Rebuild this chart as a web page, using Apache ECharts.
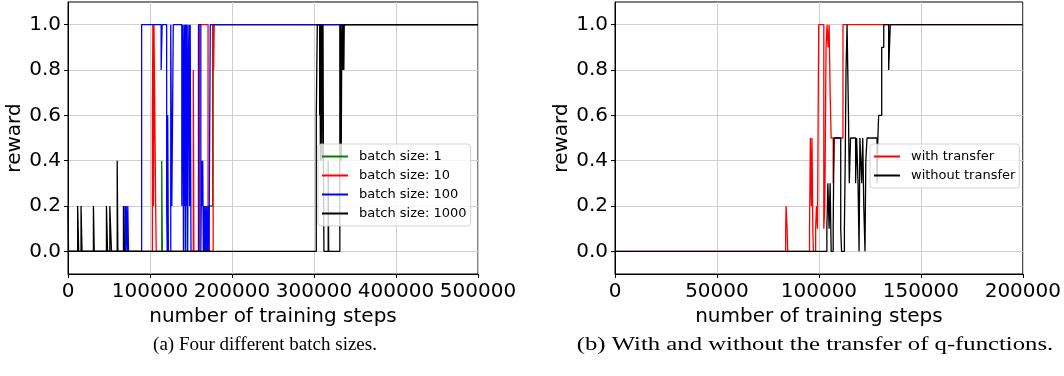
<!DOCTYPE html>
<html>
<head>
<meta charset="utf-8">
<script src="https://cdn.jsdelivr.net/npm/echarts@6/dist/echarts.min.js"></script>
<style>
  html, body { margin: 0; padding: 0; background: #fff; }
  #chart { width: 1064px; height: 376px; }
</style>
</head>
<body>
<div id="chart"></div>
<script>
// Reward vs. training steps, step-wise curves (value holds until the next change point)

// (a) batch sizes, x range 0..500000
const stepsB1 = [0, 114300, 115100, 143000, 144200, 144700, 145400, 169000, 170300, 171000, 176400, 500000];
const rewardB1 = [0, 0.4, 0, 1.0, 0.8, 1.0, 0, 0.2, 0, 0.2, 1.0, 1.0];

const stepsB10 = [0, 102900, 103500, 104300, 104800, 106900, 107600, 152800, 153500, 160300, 170800, 171400, 172200, 177000, 177600, 178300, 500000];
const rewardB10 = [0, 0.6, 1.0, 0.2, 1.0, 0.2, 0, 0.8, 0, 1.0, 0, 0.2, 0, 1.0, 0.8, 1.0, 1.0];

const stepsB100 = [0, 69400, 70400, 71000, 72300, 72900, 73800, 89800, 113600, 114800, 120300, 121000, 121600, 122400, 125300, 126600, 128400, 138800, 139500, 140200, 140800, 141400, 142100, 142700, 143300, 144000, 144700, 145300, 146000, 146700, 147500, 148300, 149000, 150000, 159100, 162000, 162500, 163000, 163700, 164300, 165000, 165600, 166400, 167200, 168000, 169000, 170000, 171000, 172000, 173500, 500000];
const rewardB100 = [0, 0.2, 0, 0.2, 0, 0.2, 0, 1.0, 0.8, 1.0, 0.2, 0, 0.6, 0, 1.0, 0.2, 1.0, 0.2, 1.0, 0.8, 0, 1.0, 0.2, 1.0, 0, 1.0, 0.2, 1.0, 0, 0.8, 1.0, 0.2, 1.0, 0, 1.0, 0, 0.2, 0.4, 0.2, 0.4, 0, 0.2, 0, 0.2, 0, 0.2, 0, 0.2, 0, 1.0, 1.0];

const stepsB1000 = [0, 600, 11800, 13000, 15900, 17100, 31000, 32000, 46900, 48200, 51000, 53000, 60000, 60800, 67600, 68800, 302800, 304000, 306900, 307300, 307800, 308200, 308700, 309100, 309600, 310000, 310500, 311000, 311500, 312100, 317300, 317900, 331500, 332000, 332400, 332800, 333200, 333700, 334200, 334600, 335000, 335500, 336000, 336400, 336900, 500000];
const rewardB1000 = [0.2, 0, 0.2, 0, 0.2, 0, 0.2, 0, 0.2, 0, 0.2, 0, 0.4, 0, 0.2, 0, 0.6, 1.0, 0.6, 1.0, 0.4, 1.0, 0.6, 1.0, 0.4, 1.0, 0.6, 1.0, 0.4, 0, 0.4, 0, 1.0, 0.8, 1.0, 0.8, 0.4, 0.8, 1.0, 0.8, 1.0, 0.8, 1.0, 0.8, 1.0, 1.0];

// (b) with / without transfer, x range 0..200000
const stepsWith = [0, 83700, 83900, 84400, 84700, 95400, 95800, 96300, 96600, 97000, 97300, 98400, 98800, 99300, 99900, 102400, 102900, 103500, 104000, 104500, 105000, 105500, 106000, 107000, 107500, 111800, 200000];
const rewardWith = [0, 0.1, 0.2, 0.1, 0, 0.1, 0.5, 0.2, 0.5, 0.1, 0, 0.1, 0.2, 0.1, 1.0, 0.1, 0.2, 0.9, 1.0, 0.9, 1.0, 0.7, 0.5, 0.3, 0.5, 1.0, 1.0];

const stepsWithout = [0, 103900, 104400, 105000, 105500, 106000, 107000, 107400, 110700, 111100, 112500, 112900, 113300, 113800, 114500, 114900, 115500, 118000, 118500, 119200, 119700, 120100, 121000, 121500, 122000, 122600, 123000, 123600, 128500, 128900, 129300, 130800, 131800, 134200, 135000, 200000];
const rewardWithout = [0, 0.1, 0.3, 0.1, 0.3, 0, 0.1, 0.5, 0.1, 0, 0.1, 0.4, 0.8, 1.0, 0.6, 0.3, 0.5, 0.3, 0.5, 0.3, 0, 0.5, 0.3, 0.5, 0.2, 0, 0.4, 0.5, 0.3, 0.5, 0.6, 0.9, 1.0, 0.8, 1.0, 1.0];

const yTicks = [0, 0.2, 0.4, 0.6, 0.8, 1.0];
const legendA = ['batch size: 1', 'batch size: 10', 'batch size: 100', 'batch size: 1000'];
const legendB = ['with transfer', 'without transfer'];
const captionA = '(a) Four different batch sizes.';
const captionB = '(b) With and without the transfer of q-functions.';

const pairs = (xs, ys) => xs.map((x, i) => [x, ys[i]]);

const FONT = 'DejaVu Sans';
const chart = echarts.init(document.getElementById('chart'), null, { renderer: 'canvas' });

function xAxisCfg(gridIndex, max, interval) {
  return {
    type: 'value', gridIndex, min: 0, max, interval,
    name: 'number of training steps', nameLocation: 'middle', nameGap: 27,
    nameTextStyle: { fontFamily: FONT, fontSize: 20, color: '#000' },
    axisLine: { show: true, onZero: false, lineStyle: { color: '#000', width: 1 } },
    axisTick: { show: true, inside: false, length: 4, lineStyle: { color: '#000' } },
    axisLabel: { fontFamily: FONT, fontSize: 20, color: '#000', margin: 8,
      formatter: v => String(Math.round(v)) },
    splitLine: { show: true, lineStyle: { color: '#cfcfcf', width: 1 } }
  };
}
function yAxisCfg(gridIndex) {
  return {
    type: 'value', gridIndex, min: -0.1, max: 1.1,
    name: 'reward', nameLocation: 'middle', nameGap: 43,
    nameTextStyle: { fontFamily: FONT, fontSize: 20, color: '#000' },
    axisLine: { show: true, onZero: false, lineStyle: { color: '#000', width: 1 } },
    axisTick: { show: true, inside: false, length: 4, customValues: yTicks, lineStyle: { color: '#000' } },
    axisLabel: { fontFamily: FONT, fontSize: 20, color: '#000', margin: 7, customValues: yTicks,
      formatter: v => Number(v).toFixed(1) },
    splitLine: { show: true, lineStyle: { color: '#cfcfcf', width: 1 } }
  };
}
function stepSeries(name, xs, ys, color, xi) {
  return {
    name, type: 'line', step: 'end', xAxisIndex: xi, yAxisIndex: xi,
    data: pairs(xs, ys), showSymbol: false, symbol: 'none',
    lineStyle: { color, width: 1.3 }, itemStyle: { color },
    emphasis: { disabled: true }
  };
}
function legendCfg(names, left, top) {
  return {
    data: names, orient: 'vertical', left, top,
    icon: 'rect', itemWidth: 26, itemHeight: 2, itemGap: 4,
    padding: [5, 4, 5, 4],
    backgroundColor: 'rgba(255,255,255,0.8)', borderColor: 'rgba(200,200,200,0.8)',
    borderWidth: 1, borderRadius: 3,
    textStyle: { fontFamily: FONT, fontSize: 13, color: '#000', lineHeight: 15, padding: [0, 0, 0, 6] },
    selectedMode: false
  };
}

chart.setOption({
  animation: false,
  backgroundColor: '#fff',
  grid: [
    { left: 68, top: 2, width: 410, height: 272, show: true, borderColor: '#000', borderWidth: 1, backgroundColor: 'transparent' },
    { left: 615, top: 2, width: 409, height: 272, show: true, borderColor: '#000', borderWidth: 1, backgroundColor: 'transparent' }
  ],
  xAxis: [xAxisCfg(0, 500000, 100000), xAxisCfg(1, 200000, 50000)],
  yAxis: [yAxisCfg(0), yAxisCfg(1)],
  legend: [legendCfg(legendA, 318, 144), legendCfg(legendB, 870, 144)],
  series: [
    stepSeries(legendA[0], stepsB1, rewardB1, '#008000', 0),
    stepSeries(legendA[1], stepsB10, rewardB10, '#ff0000', 0),
    stepSeries(legendA[2], stepsB100, rewardB100, '#0000ff', 0),
    stepSeries(legendA[3], stepsB1000, rewardB1000, '#000000', 0),
    stepSeries(legendB[0], stepsWith, rewardWith, '#ff0000', 1),
    stepSeries(legendB[1], stepsWithout, rewardWithout, '#000000', 1)
  ],
  graphic: [
    { type: 'text', x: 265, y: 345, style: { x: 0, y: 0, text: captionA, textAlign: 'center', textVerticalAlign: 'middle',
        font: '19px "Liberation Serif"', fill: '#000' } },
    { type: 'text', x: 815, y: 345, scaleX: 1.3, style: { x: 0, y: 0, text: captionB, textAlign: 'center', textVerticalAlign: 'middle',
        font: '19px "Liberation Serif"', fill: '#000' } }
  ]
});
</script>
</body>
</html>
